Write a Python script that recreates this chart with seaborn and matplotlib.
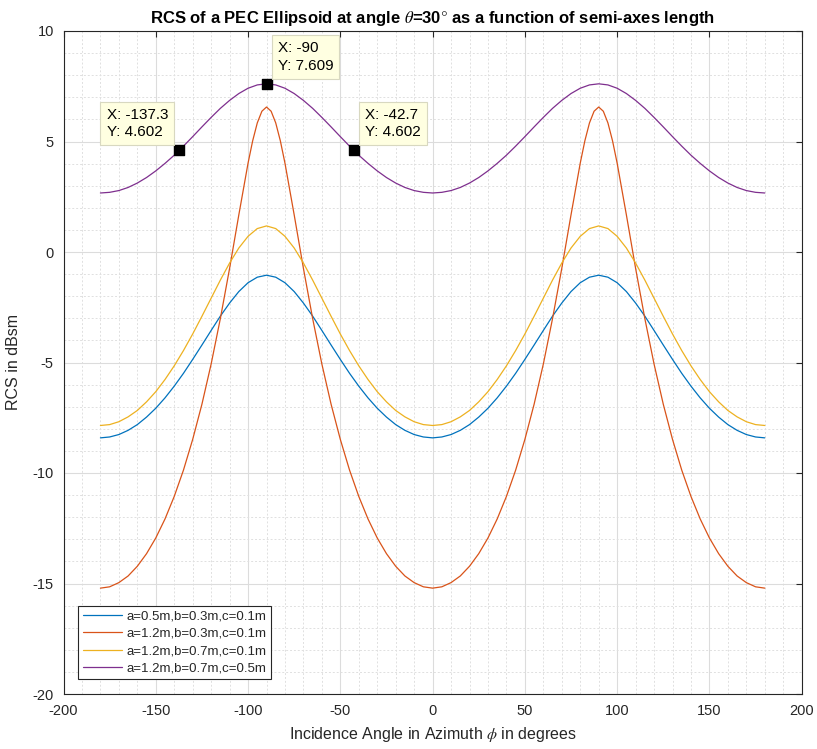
import matplotlib
matplotlib.use("Agg")
import matplotlib.pyplot as plt
from matplotlib.ticker import MultipleLocator
import seaborn as sns
import pandas as pd
import numpy as np

# ---------------- data ----------------
phi = [-180, -175, -170, -165, -160, -155, -150, -145, -140, -135, -130, -125, -120,
       -115, -110, -105, -100, -95, -90, -85, -80, -75, -70, -65, -60, -55, -50, -45,
       -40, -35, -30, -25, -20, -15, -10, -5, 0, 5, 10, 15, 20, 25, 30, 35, 40, 45,
       50, 55, 60, 65, 70, 75, 80, 85, 90, 95, 100, 105, 110, 115, 120, 125, 130, 135,
       140, 145, 150, 155, 160, 165, 170, 175, 180]

phi_red = [-180, -175, -170, -165, -160, -155, -150, -145, -140, -135, -130, -125, -120,
           -115, -110, -105, -100, -97.5, -95, -92.5, -90, -87.5, -85, -82.5, -80, -75,
           -70, -65, -60, -55, -50, -45, -40, -35, -30, -25, -20, -15, -10, -5, 0, 5, 10,
           15, 20, 25, 30, 35, 40, 45, 50, 55, 60, 65, 70, 75, 80, 82.5, 85, 87.5, 90,
           92.5, 95, 97.5, 100, 105, 110, 115, 120, 125, 130, 135, 140, 145, 150, 155,
           160, 165, 170, 175, 180]

rcs_blue = [-8.41, -8.37, -8.26, -8.07, -7.81, -7.47, -7.07, -6.60, -6.07, -5.49, -4.86,
            -4.21, -3.55, -2.90, -2.31, -1.79, -1.39, -1.14, -1.05,
            -1.14, -1.39, -1.79, -2.31, -2.90, -3.55, -4.21, -4.86, -5.49, -6.07, -6.60,
            -7.07, -7.47, -7.81, -8.07, -8.26, -8.37, -8.41,
            -8.37, -8.26, -8.07, -7.81, -7.47, -7.07, -6.60, -6.07, -5.49, -4.86,
            -4.21, -3.55, -2.90, -2.31, -1.79, -1.39, -1.14, -1.05,
            -1.14, -1.39, -1.79, -2.31, -2.90, -3.55, -4.21, -4.86, -5.49, -6.07, -6.60,
            -7.07, -7.47, -7.81, -8.07, -8.26, -8.37, -8.41]

rcs_red = [-15.21, -15.15, -14.96, -14.66, -14.22, -13.65, -12.94, -12.08, -11.06, -9.87,
           -8.48, -6.89, -5.07, -3.01, -0.74, 1.68, 4.02, 5.03, 5.84, 6.37, 6.56,
           6.37, 5.84, 5.03, 4.02, 1.68, -0.74, -3.01, -5.07, -6.89, -8.48, -9.87, -11.06,
           -12.08, -12.94, -13.65, -14.22, -14.66, -14.96, -15.15, -15.21,
           -15.15, -14.96, -14.66, -14.22, -13.65, -12.94, -12.08, -11.06, -9.87,
           -8.48, -6.89, -5.07, -3.01, -0.74, 1.68, 4.02, 5.03, 5.84, 6.37, 6.56,
           6.37, 5.84, 5.03, 4.02, 1.68, -0.74, -3.01, -5.07, -6.89, -8.48, -9.87, -11.06,
           -12.08, -12.94, -13.65, -14.22, -14.66, -14.96, -15.15, -15.21]

rcs_yellow = [-7.85, -7.81, -7.68, -7.46, -7.17, -6.78, -6.32, -5.77, -5.15, -4.46, -3.71,
              -2.91, -2.09, -1.27, -0.50, 0.18, 0.71, 1.06, 1.18,
              1.06, 0.71, 0.18, -0.50, -1.27, -2.09, -2.91, -3.71, -4.46, -5.15, -5.77,
              -6.32, -6.78, -7.17, -7.46, -7.68, -7.81, -7.85,
              -7.81, -7.68, -7.46, -7.17, -6.78, -6.32, -5.77, -5.15, -4.46, -3.71,
              -2.91, -2.09, -1.27, -0.50, 0.18, 0.71, 1.06, 1.18,
              1.06, 0.71, 0.18, -0.50, -1.27, -2.09, -2.91, -3.71, -4.46, -5.15, -5.77,
              -6.32, -6.78, -7.17, -7.46, -7.68, -7.81, -7.85]

rcs_purple = [2.67, 2.70, 2.78, 2.92, 3.12, 3.37, 3.67, 4.01, 4.38, 4.79, 5.22, 5.66, 6.09,
              6.50, 6.86, 7.17, 7.41, 7.56, 7.61,
              7.56, 7.41, 7.17, 6.86, 6.50, 6.09, 5.66, 5.22, 4.79, 4.38, 4.01, 3.67,
              3.37, 3.12, 2.92, 2.78, 2.70, 2.67,
              2.70, 2.78, 2.92, 3.12, 3.37, 3.67, 4.01, 4.38, 4.79, 5.22, 5.66, 6.09,
              6.50, 6.86, 7.17, 7.41, 7.56, 7.61,
              7.56, 7.41, 7.17, 6.86, 6.50, 6.09, 5.66, 5.22, 4.79, 4.38, 4.01, 3.67,
              3.37, 3.12, 2.92, 2.78, 2.70, 2.67]

series_labels = ["a=0.5m,b=0.3m,c=0.1m", "a=1.2m,b=0.3m,c=0.1m",
                 "a=1.2m,b=0.7m,c=0.1m", "a=1.2m,b=0.7m,c=0.5m"]

tip_x = [-137.3, -90, -42.7]
tip_y = [4.602, 7.609, 4.602]
tip_text = ["X: -137.3\nY: 4.602", "X: -90\nY: 7.609", "X: -42.7\nY: 4.602"]

x_ticks = [-200, -150, -100, -50, 0, 50, 100, 150, 200]
y_ticks = [-20, -15, -10, -5, 0, 5, 10]

# ---------------- build long table ----------------
frames = []
for xs, ys, lab in [(phi, rcs_blue, series_labels[0]), (phi_red, rcs_red, series_labels[1]),
                    (phi, rcs_yellow, series_labels[2]), (phi, rcs_purple, series_labels[3])]:
    frames.append(pd.DataFrame({"phi": xs, "rcs": ys, "series": lab}))
df = pd.concat(frames, ignore_index=True)

# ---------------- style ----------------
sns.set_theme(style="white")
plt.rcParams["font.family"] = ["Liberation Sans", "DejaVu Sans"]
plt.rcParams["mathtext.fontset"] = "stix"
plt.rcParams["axes.unicode_minus"] = False

palette = ["#0072BD", "#D95319", "#EDB120", "#7E2F8E"]
dark = "#262626"

fig = plt.figure(figsize=(8.17, 7.49), dpi=100)
ax = fig.add_axes([63.5 / 817, 1 - 694 / 749, (801.7 - 63.5) / 817, (694 - 31) / 749])

sns.lineplot(data=df, x="phi", y="rcs", hue="series", hue_order=series_labels,
             palette=palette, linewidth=0.9, sort=False, estimator=None, ax=ax)

ax.set_xlim(-200, 200)
ax.set_ylim(-20, 10)
ax.set_xticks(x_ticks)
ax.set_yticks(y_ticks)
ax.xaxis.set_minor_locator(MultipleLocator(10))
ax.yaxis.set_minor_locator(MultipleLocator(1))
ax.grid(True, which="major", color="#dcdcdc", linewidth=0.8, linestyle="-")
ax.grid(True, which="minor", color="#e0e0e0", linewidth=0.7, linestyle=(0, (2, 2)))
ax.set_axisbelow(True)

ax.tick_params(which="major", direction="in", length=4.5, width=0.8, color=dark,
               labelcolor=dark, labelsize=10.5, top=True, right=True, pad=7)
ax.tick_params(which="minor", length=0, top=True, right=True)
for sp in ax.spines.values():
    sp.set_color(dark)
    sp.set_linewidth(0.8)

ax.set_title(r"RCS of a PEC Ellipsoid at angle $\theta$=30$\degree$ as a function of semi-axes length",
             fontsize=12, fontweight="bold", color="black", pad=6)
ax.set_xlabel(r"Incidence Angle in Azimuth $\phi$ in degrees", fontsize=11.5, color=dark, labelpad=5)
ax.set_ylabel("RCS in dBsm", fontsize=11.5, color=dark, labelpad=8)

# data tips
ax.scatter(tip_x, tip_y, marker="s", s=60, color="black", zorder=5)
offsets = [(-8, 8, "right"), (8, 8, "left"), (8, 8, "left")]
for tx, ty, tt, (ox, oy, ha) in zip(tip_x, tip_y, tip_text, offsets):
    ax.annotate(tt, xy=(tx, ty), xytext=(ox, oy), textcoords="offset points",
                ha=ha, va="bottom", multialignment="left", fontsize=11, color="black",
                linespacing=1.3,
                bbox=dict(boxstyle="square,pad=0.4", facecolor="#FFFFE1",
                          edgecolor="#D8D8C0", linewidth=0.8), zorder=6)

leg = ax.legend(loc="lower left", bbox_to_anchor=(0.0196, 0.0226), borderaxespad=0,
                fontsize=9.5, frameon=True, fancybox=False, framealpha=1,
                edgecolor=dark, handlelength=3.0, handletextpad=0.3,
                labelspacing=0.38, borderpad=0.35, title=None)
leg.get_frame().set_linewidth(0.8)
for line in leg.get_lines():
    line.set_linewidth(0.9)

fig.savefig("out.png", dpi=100)
